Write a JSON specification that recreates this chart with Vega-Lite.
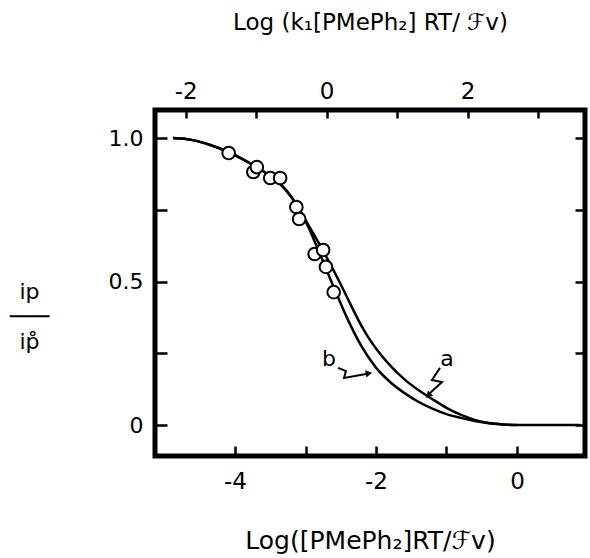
{
  "$schema": "https://vega.github.io/schema/vega-lite/v6.json",
  "width": 430,
  "height": 346,
  "autosize": {"type": "none"},
  "padding": {"left": 155, "top": 110, "right": 5, "bottom": 102},
  "background": "white",
  "config": {
    "view": {"stroke": "black", "strokeWidth": 5},
    "axis": {
      "domain": false,
      "grid": false,
      "labelFont": "DejaVu Sans",
      "titleFont": "DejaVu Sans",
      "labelColor": "black",
      "titleColor": "black",
      "tickColor": "black",
      "tickWidth": 2.5,
      "titleFontWeight": "normal"
    }
  },
  "resolve": {"scale": {"x": "independent", "y": "independent"}},
  "layer": [
    {
      "encoding": {
        "x": {
          "field": "x",
          "type": "quantitative",
          "scale": {"domain": [-5.135, 0.965], "nice": false, "zero": false},
          "axis": {
            "orient": "bottom",
            "values": [-4, -3, -2, -1, 0],
            "labelExpr": "datum.value == -4 ? '-4' : datum.value == -2 ? '-2' : datum.value == 0 ? '0' : ''",
            "tickSize": -10,
            "labelFontSize": 23,
            "labelPadding": 24,
            "title": "Log([PMePh₂]RT/ℱv)",
            "titleFontSize": 25,
            "titlePadding": 35
          }
        },
        "y": {
          "field": "y",
          "type": "quantitative",
          "scale": {"domain": [-0.108, 1.098], "nice": false, "zero": false},
          "axis": {
            "orient": "left",
            "values": [0, 0.25, 0.5, 0.75, 1],
            "labelExpr": "datum.value == 0 ? '0' : datum.value == 0.5 ? '0.5' : datum.value == 1 ? '1.0' : ''",
            "tickSize": -12,
            "labelFontSize": 22,
            "labelPadding": 24,
            "title": ["ip", "───", "ip̊"],
            "titleFontSize": 22,
            "titleLineHeight": 25,
            "titleAngle": 0,
            "titleAlign": "center",
            "titleBaseline": "middle",
            "titleX": -126,
            "titleY": 181
          }
        }
      },
      "layer": [
        {
          "data": {
            "values": [
              {"curve": "a", "x": -4.88, "y": 1.0},
              {"curve": "a", "x": -4.6, "y": 0.993},
              {"curve": "a", "x": -4.35, "y": 0.976},
              {"curve": "a", "x": -4.1, "y": 0.952},
              {"curve": "a", "x": -3.9, "y": 0.928},
              {"curve": "a", "x": -3.7, "y": 0.9},
              {"curve": "a", "x": -3.5, "y": 0.868},
              {"curve": "a", "x": -3.35, "y": 0.838},
              {"curve": "a", "x": -3.2, "y": 0.795},
              {"curve": "a", "x": -3.05, "y": 0.735},
              {"curve": "a", "x": -2.9, "y": 0.672},
              {"curve": "a", "x": -2.75, "y": 0.607},
              {"curve": "a", "x": -2.6, "y": 0.538},
              {"curve": "a", "x": -2.5, "y": 0.49},
              {"curve": "a", "x": -2.4, "y": 0.44},
              {"curve": "a", "x": -2.3, "y": 0.39},
              {"curve": "a", "x": -2.2, "y": 0.343},
              {"curve": "a", "x": -2.1, "y": 0.302},
              {"curve": "a", "x": -2.0, "y": 0.267},
              {"curve": "a", "x": -1.8, "y": 0.208},
              {"curve": "a", "x": -1.6, "y": 0.16},
              {"curve": "a", "x": -1.4, "y": 0.122},
              {"curve": "a", "x": -1.2, "y": 0.09},
              {"curve": "a", "x": -1.0, "y": 0.06},
              {"curve": "a", "x": -0.8, "y": 0.036},
              {"curve": "a", "x": -0.6, "y": 0.018},
              {"curve": "a", "x": -0.4, "y": 0.007},
              {"curve": "a", "x": -0.2, "y": 0.002},
              {"curve": "a", "x": 0.0, "y": 0.0},
              {"curve": "a", "x": 0.9, "y": 0.0},
              {"curve": "b", "x": -4.88, "y": 1.0},
              {"curve": "b", "x": -4.6, "y": 0.993},
              {"curve": "b", "x": -4.35, "y": 0.976},
              {"curve": "b", "x": -4.1, "y": 0.952},
              {"curve": "b", "x": -3.9, "y": 0.928},
              {"curve": "b", "x": -3.7, "y": 0.9},
              {"curve": "b", "x": -3.5, "y": 0.868},
              {"curve": "b", "x": -3.35, "y": 0.838},
              {"curve": "b", "x": -3.2, "y": 0.795},
              {"curve": "b", "x": -3.05, "y": 0.735},
              {"curve": "b", "x": -2.95, "y": 0.685},
              {"curve": "b", "x": -2.85, "y": 0.628},
              {"curve": "b", "x": -2.75, "y": 0.57},
              {"curve": "b", "x": -2.65, "y": 0.51},
              {"curve": "b", "x": -2.55, "y": 0.452},
              {"curve": "b", "x": -2.45, "y": 0.395},
              {"curve": "b", "x": -2.35, "y": 0.342},
              {"curve": "b", "x": -2.2, "y": 0.272},
              {"curve": "b", "x": -2.0, "y": 0.2},
              {"curve": "b", "x": -1.8, "y": 0.15},
              {"curve": "b", "x": -1.6, "y": 0.112},
              {"curve": "b", "x": -1.4, "y": 0.081},
              {"curve": "b", "x": -1.2, "y": 0.057},
              {"curve": "b", "x": -1.0, "y": 0.038},
              {"curve": "b", "x": -0.8, "y": 0.025},
              {"curve": "b", "x": -0.6, "y": 0.014},
              {"curve": "b", "x": -0.4, "y": 0.006},
              {"curve": "b", "x": -0.2, "y": 0.002},
              {"curve": "b", "x": 0.0, "y": 0.0}
            ]
          },
          "mark": {"type": "line", "color": "black", "strokeWidth": 2.5, "interpolate": "monotone"},
          "encoding": {"detail": {"field": "curve"}}
        },
        {
          "data": {
            "values": [
              {"x": -4.09, "y": 0.948},
              {"x": -3.74, "y": 0.882},
              {"x": -3.69, "y": 0.899},
              {"x": -3.5, "y": 0.861},
              {"x": -3.36, "y": 0.861},
              {"x": -3.13, "y": 0.76},
              {"x": -3.09, "y": 0.718},
              {"x": -2.87, "y": 0.596},
              {"x": -2.75, "y": 0.61},
              {"x": -2.71, "y": 0.551},
              {"x": -2.6, "y": 0.463}
            ]
          },
          "mark": {"type": "point", "shape": "circle", "size": 160, "filled": false, "fill": "white", "fillOpacity": 1, "stroke": "black", "strokeWidth": 2, "opacity": 1}
        },
        {
          "data": {
            "values": [
              {"arrow": "a", "i": 1, "x": -1.092, "y": 0.199},
              {"arrow": "a", "i": 2, "x": -1.206, "y": 0.157},
              {"arrow": "a", "i": 3, "x": -1.064, "y": 0.15},
              {"arrow": "a", "i": 4, "x": -1.248, "y": 0.108},
              {"arrow": "b", "i": 1, "x": -2.539, "y": 0.199},
              {"arrow": "b", "i": 2, "x": -2.426, "y": 0.188},
              {"arrow": "b", "i": 3, "x": -2.454, "y": 0.164},
              {"arrow": "b", "i": 4, "x": -2.142, "y": 0.178}
            ]
          },
          "mark": {"type": "line", "color": "black", "strokeWidth": 2},
          "encoding": {"detail": {"field": "arrow"}, "order": {"field": "i", "type": "quantitative"}}
        },
        {
          "data": {"values": [{"x": -1.258, "y": 0.103}]},
          "mark": {"type": "point", "shape": "triangle-up", "filled": true, "color": "black", "size": 55, "angle": 225, "opacity": 1}
        },
        {
          "data": {"values": [{"x": -2.1, "y": 0.18}]},
          "mark": {"type": "point", "shape": "triangle-up", "filled": true, "color": "black", "size": 55, "angle": 80, "opacity": 1}
        },
        {
          "data": {
            "values": [
              {"label": "a", "x": -0.993, "y": 0.23},
              {"label": "b", "x": -2.667, "y": 0.23}
            ]
          },
          "mark": {"type": "text", "font": "DejaVu Sans", "fontSize": 22, "color": "black", "align": "center", "baseline": "middle"},
          "encoding": {"text": {"field": "label"}}
        }
      ]
    },
    {
      "data": {"values": [{"t": 0}]},
      "mark": {"type": "point", "opacity": 0},
      "encoding": {
        "x": {
          "field": "t",
          "type": "quantitative",
          "scale": {"domain": [-2.435, 3.665], "nice": false, "zero": false},
          "axis": {
            "orient": "top",
            "values": [-2, -1, 0, 1, 2, 3],
            "labelExpr": "datum.value == -2 ? '-2' : datum.value == 0 ? '0' : datum.value == 2 ? '2' : ''",
            "tickSize": -8,
            "labelFontSize": 23,
            "labelPadding": 15,
            "title": "Log (k₁[PMePh₂] RT/ ℱv)",
            "titleFontSize": 23,
            "titlePadding": 46
          }
        }
      }
    },
    {
      "data": {"values": [{"r": 0}]},
      "mark": {"type": "point", "opacity": 0},
      "encoding": {
        "y": {
          "field": "r",
          "type": "quantitative",
          "scale": {"domain": [-0.108, 1.098], "nice": false, "zero": false},
          "axis": {
            "orient": "right",
            "values": [0, 0.25, 0.5, 0.75, 1],
            "labels": false,
            "tickSize": -10,
            "title": null
          }
        }
      }
    }
  ]
}
